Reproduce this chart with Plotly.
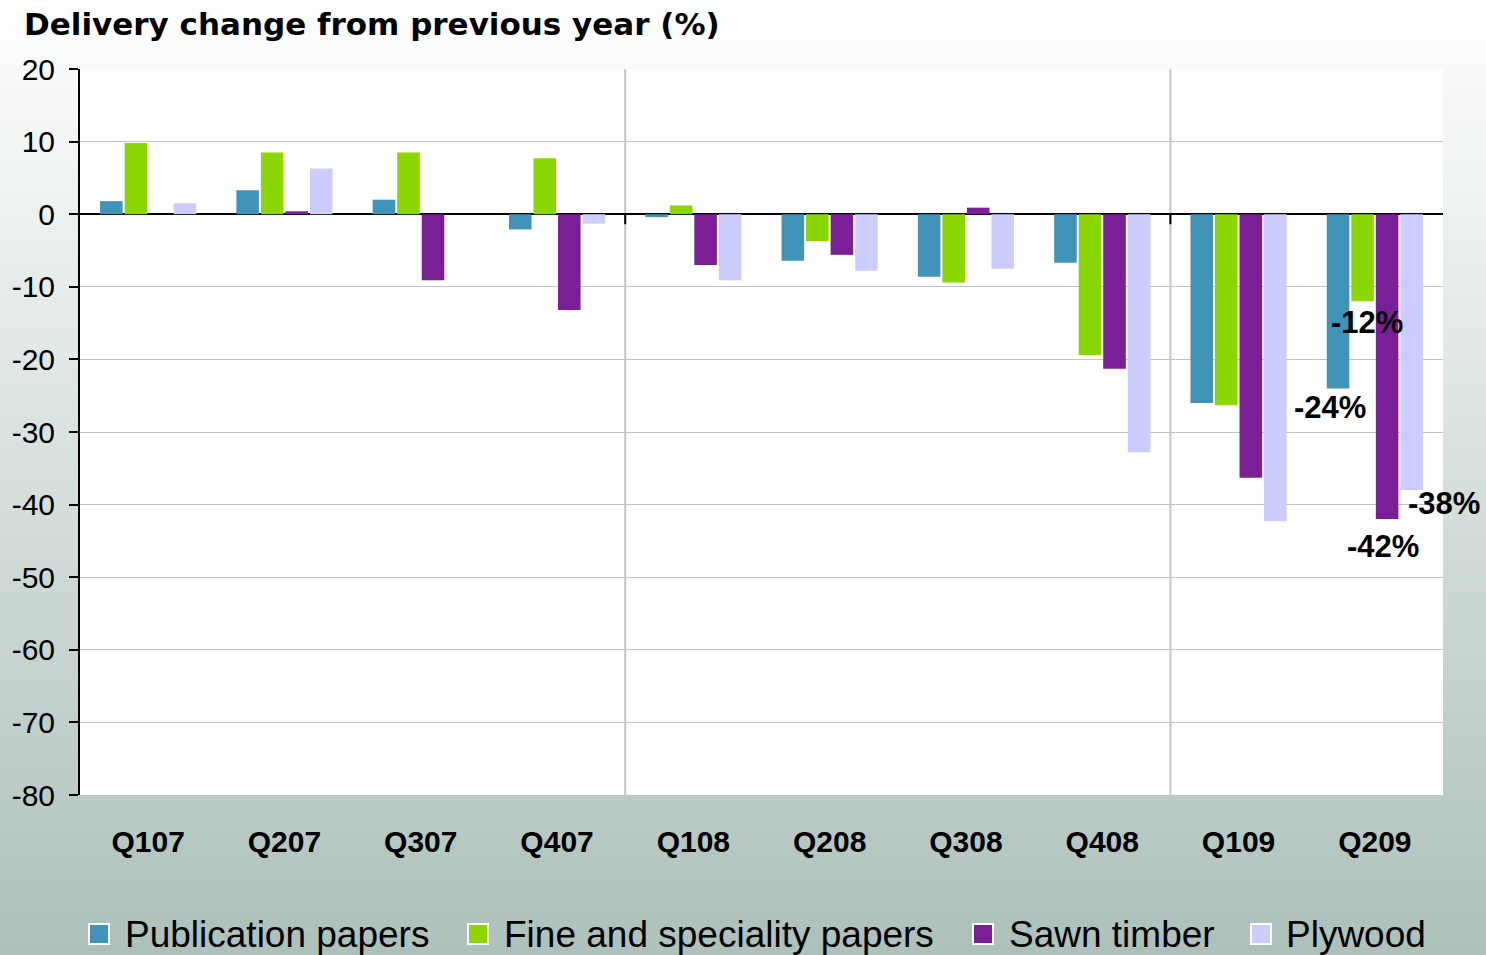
import plotly.graph_objects as go

# ---- data -------------------------------------------------------------
quarters = ["Q107", "Q207", "Q307", "Q407", "Q108", "Q208", "Q308", "Q408", "Q109", "Q209"]
publication = [1.8, 3.3, 2.0, -2.1, -0.4, -6.4, -8.6, -6.7, -26.0, -24]
fine_speciality = [9.8, 8.5, 8.5, 7.7, 1.2, -3.7, -9.4, -19.4, -26.3, -12]
sawn_timber = [None, 0.4, -9.1, -13.2, -7.0, -5.6, 0.9, -21.3, -36.3, -42]
plywood = [1.5, 6.3, None, -1.3, -9.1, -7.8, -7.5, -32.8, -42.3, -38]

series_names = ["Publication papers", "Fine and speciality papers", "Sawn timber", "Plywood"]
series_values = [publication, fine_speciality, sawn_timber, plywood]
series_colors = ["#4193b8", "#8cd600", "#7b1f96", "#ccccff"]

y_tick_values = [20, 10, 0, -10, -20, -30, -40, -50, -60, -70, -80]
y_tick_labels = ["20", "10", "0", "-10", "-20", "-30", "-40", "-50", "-60", "-70", "-80"]
year_boundaries = [3.5, 7.5]

# value labels on the last quarter: (series index, x shift px, y shift px)
label_specs = [(0, -45, -19), (1, -8, -21), (2, 8, -27), (3, 69, -13)]

# legend row layout in page pixels: swatch left edges and text left edges
legend_swatch_x = [88, 467, 972, 1250]
legend_text_x = [123, 502, 1007, 1284]
legend_y = 934
swatch_size = 22

# ---- geometry ---------------------------------------------------------
W, H = 1486, 955
L, R, T, B = 80, 43, 69, 160
pw, ph = W - L - R, H - T - B

FONT = "Liberation Sans, Arial, sans-serif"


def px_to_paper_x(px):
    return (px - L) / pw


def px_to_paper_y(py):
    return (H - B - py) / ph


fig = go.Figure()

for name, vals, col in zip(series_names, series_values, series_colors):
    fig.add_trace(go.Bar(
        x=quarters, y=vals, name=name, marker=dict(color=col, line=dict(width=0)),
        showlegend=False,
    ))

# ---- background: vertical gradient behind everything, white plot area ----
shapes = []
top_rgb = (255, 255, 255)
bot_rgb = (173, 192, 185)
n_strips = 120
for i in range(n_strips):
    t = (i + 0.5) / n_strips
    rgb = tuple(round(a + (b - a) * t) for a, b in zip(top_rgb, bot_rgb))
    y_top = H * i / n_strips
    y_bot = H * (i + 1) / n_strips + 1
    shapes.append(dict(
        type="rect", xref="paper", yref="paper", layer="below",
        x0=px_to_paper_x(-2), x1=px_to_paper_x(W + 2),
        y0=px_to_paper_y(y_bot), y1=px_to_paper_y(y_top),
        fillcolor="rgb(%d,%d,%d)" % rgb, line=dict(width=0),
    ))
shapes.append(dict(type="rect", xref="paper", yref="paper", layer="below",
                   x0=0, x1=1, y0=0, y1=1, fillcolor="white", line=dict(width=0)))

# year separators and their ticks on the zero line
for xb in year_boundaries:
    shapes.append(dict(type="line", xref="x", yref="paper", layer="below",
                       x0=xb, x1=xb, y0=0, y1=1, line=dict(color="#c6c6c6", width=2)))
    shapes.append(dict(type="line", xref="x", yref="y", ysizemode="pixel", yanchor=0,
                       x0=xb, x1=xb, y0=0, y1=-10, line=dict(color="black", width=2)))

annotations = []

# ---- legend row ---------------------------------------------------------
for name, col, sx, tx in zip(series_names, series_colors, legend_swatch_x, legend_text_x):
    shapes.append(dict(
        type="rect", xref="paper", yref="paper", layer="above",
        x0=px_to_paper_x(sx + 1), x1=px_to_paper_x(sx + swatch_size - 1),
        y0=px_to_paper_y(legend_y + swatch_size / 2 - 1),
        y1=px_to_paper_y(legend_y - swatch_size / 2 + 1),
        fillcolor=col, line=dict(color="white", width=2),
    ))
    annotations.append(dict(
        xref="paper", yref="paper", x=px_to_paper_x(tx), y=px_to_paper_y(legend_y),
        xanchor="left", yanchor="middle", showarrow=False, text=name,
        font=dict(family=FONT, size=37, color="black"),
    ))

# ---- value labels -----------------------------------------------------
for idx, dx, dy in label_specs:
    v = series_values[idx][-1]
    annotations.append(dict(
        x=quarters[-1], y=v, xref="x", yref="y", text="%d%%" % round(v),
        showarrow=False, xshift=dx, yshift=dy, xanchor="center", yanchor="middle",
        font=dict(family=FONT, size=31, color="black", weight="bold"),
    ))

fig.update_layout(
    width=W, height=H, autosize=False,
    margin=dict(l=L, r=R, t=T, b=B, pad=0),
    paper_bgcolor="white", plot_bgcolor="rgba(0,0,0,0)",
    barmode="group", bargap=0.28, bargroupgap=0.08,
    shapes=shapes, annotations=annotations, showlegend=False,
    title=dict(
        text="Delivery change from previous year (%)",
        font=dict(family="DejaVu Sans, sans-serif", size=31, color="black", weight="bold"),
        xref="container", yref="container", x=24 / W, xanchor="left",
        y=1 - 24 / H, yanchor="middle",
    ),
    xaxis=dict(
        type="category", categoryorder="array", categoryarray=quarters,
        range=[-0.5, len(quarters) - 0.5], automargin=False,
        showgrid=False, zeroline=False, showline=False, ticks="",
        tickfont=dict(family=FONT, size=30, color="black", weight="bold"),
        ticklabelstandoff=26,
    ),
    yaxis=dict(
        range=[-80, 20], tickvals=y_tick_values, ticktext=y_tick_labels,
        automargin=False,
        showgrid=True, gridcolor="#c4c4c4", gridwidth=1,
        zeroline=True, zerolinecolor="black", zerolinewidth=2,
        showline=True, linecolor="black", linewidth=2,
        ticks="outside", ticklen=9, tickwidth=2, tickcolor="black",
        tickfont=dict(family=FONT, size=30, color="black"),
        ticklabelstandoff=8,
    ),
)

fig.write_html("out.html")
